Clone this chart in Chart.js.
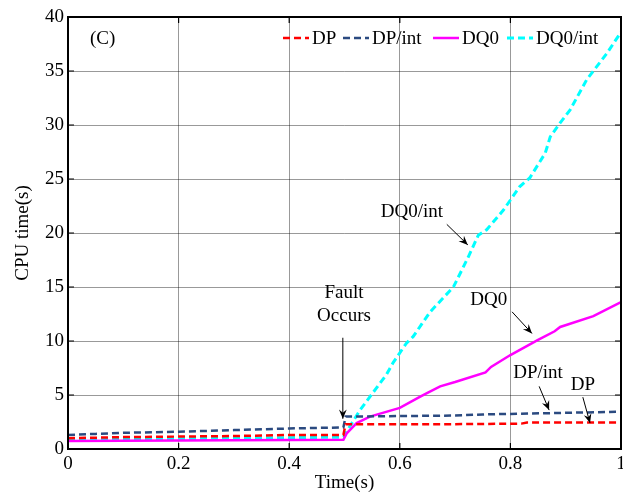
<!DOCTYPE html>
<html lang="en">
<head>
  <meta charset="UTF-8">
  <title>CPU time comparison (C)</title>
  <script src="https://cdn.jsdelivr.net/npm/chart.js"></script>
  <style>
    html, body { margin: 0; padding: 0; background: #fff; }
    #wrap { width: 623px; height: 500px; }
  </style>
</head>
<body>
  <div id="wrap"><canvas id="cpuChart" width="623" height="500"></canvas></div>

  <script>
    // series data (time in s, CPU time in s)
    const dpTime = [0, 0.1, 0.2, 0.3, 0.4, 0.498, 0.502, 0.6, 0.7, 0.82, 0.83, 1.0];
    const dpCpu = [1.0, 1.1, 1.15, 1.2, 1.3, 1.3, 2.3, 2.3, 2.3, 2.35, 2.45, 2.45];

    const dpIntTime = [0, 0.05, 0.1, 0.2, 0.3, 0.4, 0.498, 0.502, 0.6, 0.7, 0.75, 0.8, 0.9, 1.0];
    const dpIntCpu = [1.3, 1.4, 1.5, 1.6, 1.75, 1.9, 2.0, 3.0, 3.05, 3.1, 3.2, 3.25, 3.35, 3.45];

    const dq0Time = [0, 0.498, 0.504, 0.522, 0.546, 0.6, 0.637, 0.65, 0.673, 0.7, 0.755, 0.765, 0.8, 0.85, 0.88, 0.89, 0.95, 1.0];
    const dq0Cpu = [0.75, 0.85, 1.45, 2.4, 3.0, 3.8, 4.85, 5.2, 5.8, 6.2, 7.1, 7.6, 8.7, 10.1, 10.9, 11.3, 12.3, 13.6];

    const dq0IntTime = [0, 0.1, 0.2, 0.3, 0.4, 0.498, 0.505, 0.528, 0.576, 0.588, 0.612, 0.624, 0.655, 0.697, 0.724, 0.742, 0.757, 0.787, 0.817, 0.835, 0.863, 0.872, 0.89, 0.908, 0.938, 0.956, 0.974, 1.0];
    const dq0IntCpu = [0.85, 0.9, 0.95, 1.0, 1.05, 1.1, 1.7, 3.6, 6.9, 8.0, 9.8, 10.4, 12.7, 15.0, 17.8, 19.8, 20.3, 22.1, 24.3, 25.1, 27.4, 28.9, 30.2, 31.4, 34.2, 35.4, 36.6, 38.6];

    const seriesLabels = ['DP', 'DP/int', 'DQ0', 'DQ0/int'];

    // text labels with arrows, in data coordinates
    const notes = [
      { text: ['DQ0/int'], x: 0.622, y: 21.9, from: [0.685, 20.8], to: [0.723, 18.9] },
      { text: ['DQ0'], x: 0.761, y: 13.8, from: [0.803, 12.7], to: [0.839, 10.7] },
      { text: ['Fault', 'Occurs'], x: 0.499, y: 14.4, from: [0.497, 10.3], to: [0.497, 2.8] },
      { text: ['DP/int'], x: 0.85, y: 7.0, from: [0.852, 5.8], to: [0.87, 3.6] },
      { text: ['DP'], x: 0.931, y: 5.9, from: [0.931, 4.8], to: [0.944, 2.4] }
    ];

    const FONT = '19px "Liberation Serif", "Times New Roman", serif';

    function toPoints(xs, ys) {
      return xs.map((x, i) => ({ x: x, y: ys[i] }));
    }

    function arrow(ctx, x1, y1, x2, y2) {
      const a = Math.atan2(y2 - y1, x2 - x1);
      const len = 10, w = 0.4;
      ctx.beginPath();
      ctx.moveTo(x1, y1);
      ctx.lineTo(x2, y2);
      ctx.stroke();
      ctx.beginPath();
      ctx.moveTo(x2, y2);
      ctx.lineTo(x2 - len * Math.cos(a - w), y2 - len * Math.sin(a - w));
      ctx.lineTo(x2 - len * 0.6 * Math.cos(a), y2 - len * 0.6 * Math.sin(a));
      ctx.lineTo(x2 - len * Math.cos(a + w), y2 - len * Math.sin(a + w));
      ctx.closePath();
      ctx.fill();
    }

    // box, inward ticks, legend and notes
    const decorations = {
      id: 'decorations',
      afterDatasetsDraw(chart) {
        const ctx = chart.ctx;
        const area = chart.chartArea;
        const xs = chart.scales.x, ys = chart.scales.y;
        ctx.save();

        // frame
        ctx.strokeStyle = '#000';
        ctx.lineWidth = 2;
        ctx.strokeRect(area.left, area.top, area.right - area.left, area.bottom - area.top);

        // inward tick marks on all four sides
        ctx.lineWidth = 1.2;
        ctx.beginPath();
        xs.ticks.forEach(t => {
          const px = xs.getPixelForValue(t.value);
          ctx.moveTo(px, area.bottom); ctx.lineTo(px, area.bottom - 6);
          ctx.moveTo(px, area.top); ctx.lineTo(px, area.top + 6);
        });
        ys.ticks.forEach(t => {
          const py = ys.getPixelForValue(t.value);
          ctx.moveTo(area.left, py); ctx.lineTo(area.left + 6, py);
          ctx.moveTo(area.right, py); ctx.lineTo(area.right - 6, py);
        });
        ctx.stroke();

        ctx.font = FONT;
        ctx.fillStyle = '#000';
        ctx.textBaseline = 'middle';

        // panel tag
        ctx.textAlign = 'center';
        ctx.fillText('(C)', xs.getPixelForValue(0.0625), ys.getPixelForValue(38));

        // legend in the top right corner
        const legendX = [283, 343, 433, 507];
        const legendY = 38;
        ctx.textAlign = 'left';
        chart.data.datasets.forEach((ds, i) => {
          const x0 = legendX[i];
          ctx.save();
          ctx.strokeStyle = ds.borderColor;
          ctx.lineWidth = ds.borderWidth;
          ctx.setLineDash(ds.borderDash || []);
          ctx.beginPath();
          ctx.moveTo(x0, legendY);
          ctx.lineTo(x0 + 26, legendY);
          ctx.stroke();
          ctx.restore();
          ctx.fillText(ds.label, x0 + 29, legendY + 1);
        });

        // notes with arrows
        ctx.textAlign = 'center';
        ctx.lineWidth = 1;
        ctx.strokeStyle = '#000';
        notes.forEach(n => {
          const cx = xs.getPixelForValue(n.x);
          const cy = ys.getPixelForValue(n.y);
          n.text.forEach((line, k) => ctx.fillText(line, cx, cy + k * 23));
          arrow(ctx,
            xs.getPixelForValue(n.from[0]), ys.getPixelForValue(n.from[1]),
            xs.getPixelForValue(n.to[0]), ys.getPixelForValue(n.to[1]));
        });

        ctx.restore();
      }
    };

    function createCpuChart() {
      const ctx = document.getElementById('cpuChart').getContext('2d');

      const cpuChart = new Chart(ctx, {
        type: 'line',
        data: {
          datasets: [
            {
              label: seriesLabels[0],
              data: toPoints(dpTime, dpCpu),
              borderColor: '#ff0000',
              borderWidth: 2.5,
              borderDash: [7, 4]
            },
            {
              label: seriesLabels[1],
              data: toPoints(dpIntTime, dpIntCpu),
              borderColor: '#2b4a80',
              borderWidth: 2.5,
              borderDash: [7, 4]
            },
            {
              label: seriesLabels[2],
              data: toPoints(dq0Time, dq0Cpu),
              borderColor: '#ff00ff',
              borderWidth: 2.5
            },
            {
              label: seriesLabels[3],
              data: toPoints(dq0IntTime, dq0IntCpu),
              borderColor: '#00ffff',
              borderWidth: 3,
              borderDash: [7, 4]
            }
          ]
        },
        options: {
          responsive: false,
          animation: false,
          devicePixelRatio: 1,
          layout: { padding: { top: 17, right: 2, left: 0, bottom: 0 } },
          elements: { point: { radius: 0 }, line: { tension: 0, fill: false } },
          plugins: { legend: { display: false }, tooltip: { enabled: false } },
          scales: {
            x: {
              type: 'linear',
              min: 0,
              max: 1,
              ticks: {
                stepSize: 0.2, color: '#000', font: { family: '"Liberation Serif"', size: 19 }, padding: 4, maxRotation: 0,
                callback: v => String(Number(v.toFixed(1)))
              },
              grid: { color: 'rgba(0,0,0,0.4)', drawTicks: false },
              border: { display: false },
              title: { display: true, text: 'Time(s)', color: '#000', font: { family: '"Liberation Serif"', size: 19 }, padding: { top: 0, bottom: 6 } },
              afterFit(s) { s.height = 51; s.paddingLeft = 0; s.paddingRight = 0; }
            },
            y: {
              min: 0,
              max: 40,
              ticks: { stepSize: 5, color: '#000', font: { family: '"Liberation Serif"', size: 19 }, padding: 4 },
              grid: { color: 'rgba(0,0,0,0.4)', drawTicks: false },
              border: { display: false },
              title: { display: true, text: 'CPU time(s)', color: '#000', font: { family: '"Liberation Serif"', size: 19 }, padding: { top: 12, bottom: 4 } },
              afterFit(s) { s.width = 68; s.paddingTop = 0; s.paddingBottom = 0; }
            }
          }
        },
        plugins: [decorations]
      });
    }

    window.onload = createCpuChart;
  </script>
</body>
</html>
